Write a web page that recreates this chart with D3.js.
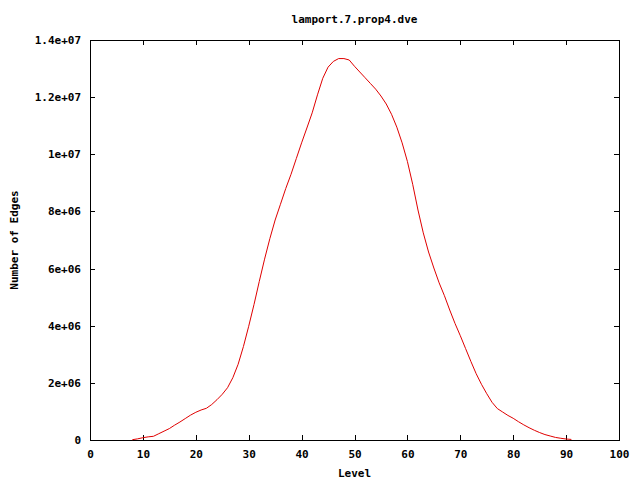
<!DOCTYPE html>
<html>
<head>
<meta charset="utf-8">
<script src="https://cdn.jsdelivr.net/npm/d3@7"></script>
<style>
  body { margin: 0; background: #fff; }
  svg { display: block; }
  text { font-family: "DejaVu Sans Mono", monospace; font-weight: bold; font-size: 11px; fill: #000; }
</style>
</head>
<body>
<svg id="chart" width="640" height="480"></svg>
<script>
'use strict'

// levels of the search and edge counts per level (in millions)
const levels = [8, 9, 10, 11, 12, 13, 14, 15, 16, 17, 18, 19, 20, 21, 22, 23, 24, 25, 26, 27, 28, 29,
    30, 31, 32, 33, 34, 35, 36, 37, 38, 39, 40, 41, 42, 43, 44, 45, 46, 47, 48, 49,
    50, 51, 52, 53, 54, 55, 56, 57, 58, 59, 60, 61, 62, 63, 64, 65, 66, 67, 68, 69,
    70, 71, 72, 73, 74, 75, 76, 77, 78, 79, 80, 81, 82, 83, 84, 85, 86, 87, 88, 89, 90, 91]
const edgesM = [0.01, 0.04, 0.08, 0.11, 0.13, 0.22, 0.31, 0.40, 0.52, 0.63, 0.75, 0.87, 0.97, 1.05, 1.11, 1.24, 1.41, 1.60, 1.83, 2.18, 2.65, 3.27,
    3.98, 4.74, 5.55, 6.33, 7.05, 7.7, 8.25, 8.8, 9.3, 9.85, 10.4, 10.92, 11.45, 12.08, 12.66, 13.05, 13.25, 13.35, 13.35, 13.3,
    13.08, 12.88, 12.68, 12.48, 12.28, 12.04, 11.76, 11.4, 10.95, 10.4, 9.75, 8.95, 8.05, 7.25, 6.58, 6.02, 5.5, 5.05, 4.55, 4.08,
    3.65, 3.2, 2.75, 2.32, 1.95, 1.62, 1.32, 1.1, 0.98, 0.86, 0.76, 0.64, 0.53, 0.43, 0.34, 0.26, 0.19, 0.14, 0.09, 0.06, 0.035, 0.02]

const xTicks = [0, 10, 20, 30, 40, 50, 60, 70, 80, 90, 100]
const yTicks = [0, 2e6, 4e6, 6e6, 8e6, 1e7, 1.2e7, 1.4e7]
const yTickLabels = ['0', '2e+06', '4e+06', '6e+06', '8e+06', '1e+07', '1.2e+07', '1.4e+07']

const title = 'lamport.7.prop4.dve'
const xTitle = 'Level'
const yTitle = 'Number of Edges'

let svg = d3.select('#chart')
let margin = { top: 40, right: 21, bottom: 40, left: 90 }
let width = 640 - margin.left - margin.right
let height = 480 - margin.top - margin.bottom

let g = svg.append('g').attr('transform', `translate(${margin.left}, ${margin.top})`)

let x = d3.scaleLinear().domain([0, 100]).range([0, width])
let y = d3.scaleLinear().domain([0, 1.4e7]).range([height, 0])

let data = levels.map((l, i) => ({ level: l, edges: edgesM[i] * 1e6 }))

// axes with inward ticks, mirrored on top and right like gnuplot
g.append('g')
    .attr('transform', `translate(0, ${height})`)
    .call(d3.axisBottom(x).tickValues(xTicks).tickFormat(d3.format('d')).tickSize(-5).tickPadding(10))
g.append('g')
    .call(d3.axisTop(x).tickValues(xTicks).tickFormat('').tickSize(-5))
g.append('g')
    .call(d3.axisLeft(y).tickValues(yTicks).tickFormat((d, i) => yTickLabels[i]).tickSize(-5).tickPadding(9))
g.append('g')
    .attr('transform', `translate(${width}, 0)`)
    .call(d3.axisRight(y).tickValues(yTicks).tickFormat('').tickSize(-5))

g.selectAll('.domain').remove()
g.selectAll('.tick line').attr('stroke', '#000').attr('shape-rendering', 'crispEdges')
g.selectAll('.tick text').attr('font-size', null).attr('font-family', null)

g.append('rect')
    .attr('x', 0.5).attr('y', 0.5)
    .attr('width', width).attr('height', height)
    .attr('fill', 'none').attr('stroke', '#000').attr('stroke-width', 1)
    .attr('shape-rendering', 'crispEdges')

let line = d3.line().x(d => x(d.level)).y(d => y(d.edges))

g.append('path')
    .datum(data)
    .attr('fill', 'none')
    .attr('stroke', '#e00000')
    .attr('stroke-width', 1)
    .attr('d', line)

svg.append('text')
    .attr('x', margin.left + width / 2).attr('y', 23)
    .attr('text-anchor', 'middle')
    .text(title)

svg.append('text')
    .attr('x', margin.left + width / 2).attr('y', 477)
    .attr('text-anchor', 'middle')
    .text(xTitle)

svg.append('text')
    .attr('transform', `translate(18, ${margin.top + height / 2}) rotate(-90)`)
    .attr('text-anchor', 'middle')
    .text(yTitle)
</script>
</body>
</html>
